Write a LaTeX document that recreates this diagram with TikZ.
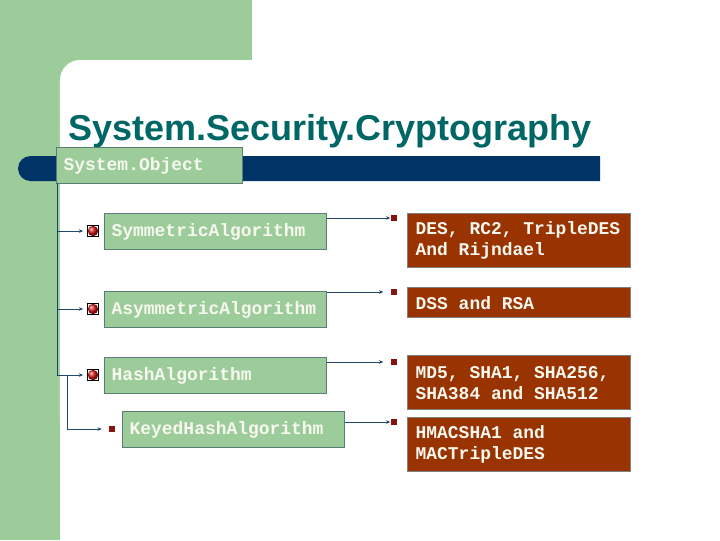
\documentclass[tikz,border=0pt]{standalone}
\usepackage{fontspec}
\setmainfont{Liberation Sans}
\setmonofont{Liberation Mono}
\usetikzlibrary{arrows.meta,positioning,calc}
\definecolor{leaf}{RGB}{155,204,153}
\definecolor{barblue}{RGB}{0,51,102}
\definecolor{titleteal}{RGB}{0,102,102}
\definecolor{rust}{RGB}{153,51,0}
\definecolor{leafedge}{RGB}{90,125,118}
\definecolor{linkblue}{RGB}{35,70,110}
\definecolor{bulletred}{RGB}{150,20,20}
\definecolor{ballred}{RGB}{210,20,20}
\definecolor{paper}{RGB}{248,248,240}
\newcommand{\cls}{\fontsize{12.75}{15}\selectfont\ttfamily\bfseries}

\begin{document}
\begin{tikzpicture}[
  x=0.025cm,
  y=-0.025cm,
  classbox/.style={
    draw=leafedge,
    line width=1pt,
    fill=leaf,
    anchor=north west,
    inner xsep=0.175cm,
    inner ysep=0pt,
    minimum height=0.9cm,
    text width=5.2cm,
    text justified,
    text=paper,
    font=\cls
  },
  algbox/.style={
    draw=gray,
    line width=1pt,
    fill=rust,
    anchor=north west,
    inner xsep=0.2cm,
    inner ysep=0pt,
    minimum height=1.35cm,
    text width=5.175cm,
    text justified,
    text=paper,
    font=\cls
  },
  ball/.style={
    draw=black,
    fill=white,
    minimum size=0.27cm,
    inner sep=0pt,
    path picture={\shade[ball color=ballred]
      (path picture bounding box.center) circle (0.13cm);}
  },
  dot/.style={
    fill=bulletred!90!black,
    minimum size=0.17cm,
    inner sep=0pt
  },
  link/.style={
    draw=linkblue,
    line width=0.6pt,
    -{Stealth[length=3pt,width=2.6pt]}
  }
]
\useasboundingbox (0,0) rectangle (720,540);
\fill[leaf] (0,0) rectangle (252,540);
\fill[white] (720,60) -- (80,60)
  arc[start angle=90,end angle=180,radius=0.5cm]
  -- (60,540) -- (720,540) -- cycle;
\fill[barblue] (600,156) -- (30.5,156)
  arc[start angle=90,end angle=270,radius=0.3125cm]
  -- (600,181) -- cycle;

\node[anchor=base west,inner sep=0pt,text=titleteal,
  font=\fontsize{25.6}{30}\selectfont\bfseries]
  (title) at (68,140) {System.Security.Cryptography};

\node[classbox,text width=4.3cm] (sysobj) at (56,147) {System.Object};
\node[classbox] (sym) at (104,213) {SymmetricAlgorithm};
\node[classbox] (asym) at (104,291) {AsymmetricAlgorithm};
\node[classbox] (hash) at (104,357) {HashAlgorithm};
\node[classbox] (keyed) at (122,411) {KeyedHashAlgorithm};

\node[algbox] (des) at (407,213) {DES, RC2, TripleDES\\And Rijndael};
\node[algbox,minimum height=0.75cm] (dss) at (407,287) {DSS and RSA};
\node[algbox] (md) at (407,355) {MD5, SHA1, SHA256,\\SHA384 and SHA512};
\node[algbox] (hmac) at (407,417) {HMACSHA1 and\\MACTripleDES};

\node[ball] (b1) at (93,231) {};
\node[ball] (b2) at (93,309) {};
\node[ball] (b3) at (93,375) {};
\node[dot,minimum size=0.15cm] (b4) at (112,429) {};

\node[dot] (r1) at (394,218) {};
\node[dot] (r2) at (394,292) {};
\node[dot] (r3) at (394,362) {};
\node[dot] (r4) at (394,422) {};

\coordinate (trunk) at (57,183);
\coordinate (fork) at (67,375);
\draw[link,shorten >=3pt] (trunk) |- (b1);
\draw[link,shorten >=3pt] (trunk) |- (b2);
\draw[link,shorten >=3pt] (trunk) |- (b3);
\draw[link,shorten >=5pt] (fork) |- (b4);

\draw[link] (sym.east |- r1) -- (r1);
\draw[link,shorten >=5pt] (asym.east |- r2) -- (r2);
\draw[link,shorten >=5pt] (hash.east |- r3) -- (r3);
\draw[link] (keyed.east |- r4) -- (r4);
\end{tikzpicture}
\end{document}
